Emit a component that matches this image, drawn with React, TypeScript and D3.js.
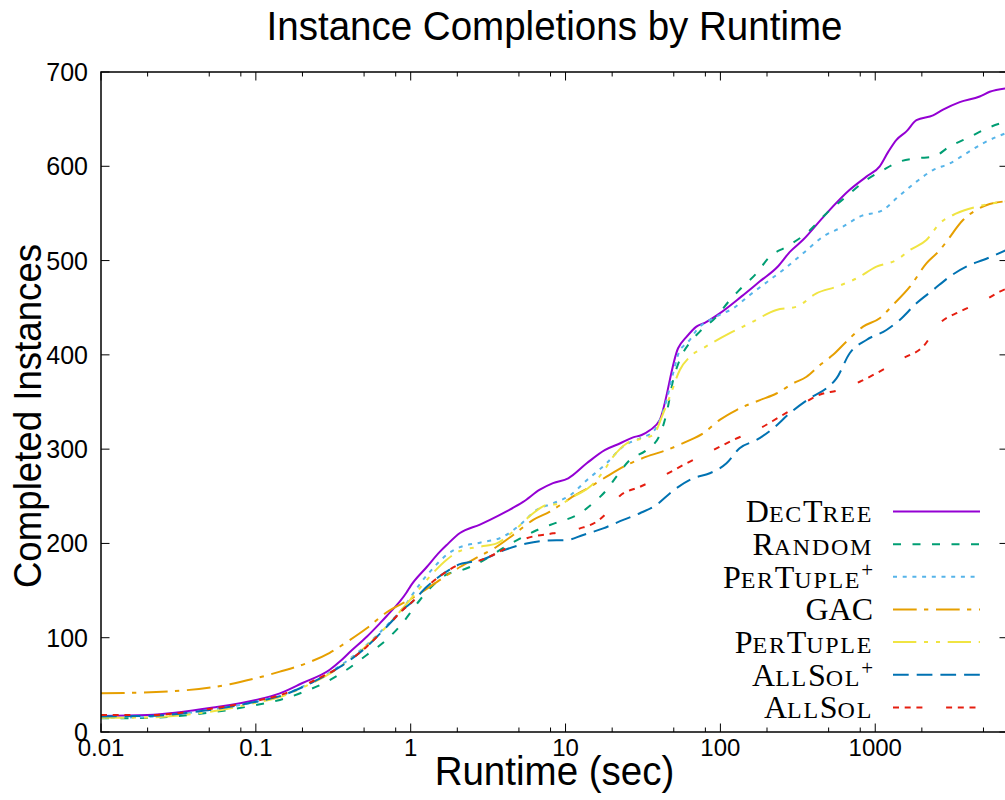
import React, { useEffect, useRef } from "react";
import * as d3 from "d3";

// runtime (sec), completed instances
const decTree = [
  [0.01, 17], [0.02, 18], [0.053, 26], [0.1, 34], [0.143, 41], [0.2, 52], [0.3, 66],
  [0.35, 75], [0.4, 84], [0.52, 101], [0.63, 115], [0.7, 123], [0.94, 148], [1.0, 155],
  [1.27, 175], [1.54, 191], [1.7, 198], [2.08, 211], [2.8, 220], [3.25, 225], [4.16, 234],
  [5.32, 244], [6.82, 257], [8.3, 264], [10.4, 269], [13.7, 285], [17.9, 299], [22.4, 306],
  [27.3, 312.5], [31, 315], [35, 320], [40.6, 331], [53.3, 407], [60.4, 419], [70, 430],
  [79.3, 434], [99, 444], [137, 462], [180, 478], [236, 494], [280, 509], [342, 522],
  [472, 548], [684, 575], [877, 589], [1069, 600], [1210, 615], [1371, 628], [1590, 637],
  [1845, 649], [2362, 654], [2741, 660], [3512, 668], [4727, 674], [5483, 679], [7200, 683],
];
const random = [
  [0.01, 14.5], [0.02, 15], [0.053, 21], [0.1, 28.6], [0.143, 34], [0.2, 42], [0.3, 55],
  [0.386, 66], [0.52, 81.7], [0.7, 98], [0.94, 121], [1.0, 127], [1.147, 140], [1.4, 156],
  [1.7, 167], [2.08, 171], [2.8, 180], [3.94, 195], [5.07, 205], [6.5, 214], [8.75, 222],
  [11.8, 230], [15, 242.5], [18.4, 256.7], [21.3, 270.8], [26, 288.5], [33.3, 299],
  [40.6, 315], [44.9, 338], [49.5, 373], [54.7, 395], [63.5, 413], [73.6, 424.6],
  [94.4, 440.5], [115, 458], [133, 469], [171, 486.5], [208, 504], [267, 514.7], [360, 529],
  [484, 550], [651, 568], [877, 585.5], [1123, 596], [1439, 605], [1845, 608.5],
  [2362, 610], [3027, 621], [4074, 631], [5224, 640], [7200, 648],
];
const perTuplePlus = [
  [0.01, 15], [0.02, 16], [0.053, 24], [0.1, 32], [0.143, 38], [0.2, 48], [0.3, 63],
  [0.5, 90], [0.7, 113], [0.94, 136.5], [1.0, 143], [1.147, 157], [1.4, 174], [1.7, 187.7],
  [2.08, 196], [2.8, 200.8], [3.94, 207], [5.07, 219.6], [6.5, 235.5], [8.3, 242.5],
  [10.7, 251], [13.7, 267], [18.4, 285], [23.4, 302.6], [30.2, 311.5], [36.8, 318.5],
  [44.9, 352], [49.5, 380.5], [54.7, 405], [57.4, 409], [63.5, 416], [70, 426], [94, 440.5],
  [121, 449.4], [155, 463.5], [208, 479.4], [254, 490], [342, 507.7], [460, 525.4],
  [619, 536], [794, 546.6], [1123, 553.7], [1371, 566], [1845, 583.7], [2362, 596],
  [3027, 603], [3879, 613.8], [4966, 624.4], [7200, 636],
];
const gac = [
  [0.01, 41], [0.032, 43.8], [0.068, 50.6], [0.1, 57], [0.143, 64], [0.213, 73], [0.3, 84],
  [0.4, 97], [0.52, 110], [0.7, 127], [1.0, 141], [1.6, 163], [2.08, 175], [2.8, 186.7],
  [3.59, 196.5], [4.59, 209], [6.18, 225], [7.92, 233.7], [10.7, 247.8], [14.35, 260],
  [18.4, 270.8], [24.8, 283], [33.3, 292], [44.9, 299], [60.4, 308], [77.3, 316.8],
  [99, 331], [127, 341.5], [180, 352], [230, 359], [295, 369.8], [360, 376.8], [438, 389],
  [534, 400], [651, 414], [834, 430], [1069, 438.8], [1303, 453], [1670, 472], [2140, 497],
  [2610, 511], [2882, 520], [3688, 543], [4501, 553.7], [5483, 560], [7200, 563],
];
const perTuple = [
  [0.01, 15], [0.02, 15.5], [0.053, 22], [0.1, 31], [0.143, 37], [0.2, 47], [0.3, 62],
  [0.5, 89], [0.7, 112], [1.0, 141], [1.33, 165], [1.7, 182.4], [2.08, 192], [2.8, 196.5],
  [3.59, 200], [4.59, 212.5], [6.18, 232], [7.54, 240.8], [9.19, 241.8], [11.2, 249.6],
  [14.35, 260], [17.5, 276], [20.3, 292], [24.8, 306], [31.7, 311.5], [36.8, 315],
  [42.7, 338], [47.1, 355.6], [54.7, 384], [63.5, 398], [77.3, 407], [115, 423],
  [155, 433.5], [230, 447.6], [310, 451], [417, 465.3], [562, 472.3], [756, 481],
  [1018, 493.5], [1371, 500.6], [1670, 511], [2140, 521.8], [2610, 539.5], [3343, 550],
  [4501, 557], [7200, 563],
];
const allSolPlus = [
  [0.01, 16.5], [0.02, 17], [0.053, 24], [0.1, 32], [0.143, 38], [0.247, 55], [0.349, 69],
  [0.52, 90.5], [0.7, 111.7], [0.94, 133], [1.0, 136.5], [1.27, 154], [1.7, 170],
  [2.08, 178], [2.8, 182], [4.16, 193.8], [5.6, 200], [7.54, 203], [10.15, 203.6],
  [13, 209], [17.5, 216], [23.6, 225], [30.2, 232], [38.7, 241], [47.1, 253], [52, 258.5],
  [66.6, 269], [85.4, 274.4], [109.5, 285], [133, 301], [171, 309.7], [219, 322],
  [280, 338], [378, 354], [484, 364.5], [562, 375], [684, 401.7], [877, 415.8],
  [1181, 426.4], [1439, 437], [1845, 454.7], [2362, 468.8], [3027, 483], [4074, 495.3],
  [4966, 500.6], [7200, 512],
];
const allSol = [
  [0.01, 18], [0.02, 18], [0.053, 25], [0.1, 33], [0.143, 39], [0.247, 56], [0.349, 69],
  [0.52, 90.5], [0.7, 111.7], [0.94, 133], [1.0, 136.5], [1.27, 154], [1.7, 170],
  [2.08, 178], [2.8, 182], [4.16, 195], [5.6, 205.4], [8.3, 210.7], [12.4, 216],
  [15.85, 223], [18.4, 232], [22.4, 250.3], [30.2, 260], [44.9, 273.5], [60.4, 285],
  [89.7, 299], [121, 309.7], [180, 322], [242, 334.4], [342, 348.6], [460, 359],
  [562, 362], [794, 371.5], [1018, 380.5], [1512, 396.3], [2035, 408.7], [2610, 433.5],
  [3512, 445.8], [5093, 458], [6365, 467], [7200, 471],
];

const seriesNames = ["DecTree", "Random", "PerTuple+", "GAC", "PerTuple", "AllSol+", "AllSol"];
const seriesData = [decTree, random, perTuplePlus, gac, perTuple, allSolPlus, allSol];

const xTicks = [0.01, 0.1, 1, 10, 100, 1000];
const xTickLabels = ["0.01", "0.1", "1", "10", "100", "1000"];
const xMinorSteps = [2, 5, 8];
const yTicks = [0, 100, 200, 300, 400, 500, 600, 700];

const colors = ["#9400d3", "#009e73", "#56b4e9", "#e69f00", "#f0e442", "#0072b2", "#e51e10"];
const dashes = [
  null,
  "8,11.5",
  "4,5.7",
  "23.7,7.3,4.3,7.7",
  "23.3,7.7,4,8,4,7.7",
  "15.7,8",
  "6,5.7,6,5.7,6,23.7",
];

const sans = "'Liberation Sans', Arial, Helvetica, sans-serif";
const serif = "'Liberation Serif', 'Times New Roman', serif";

const App = () => {
  const svgRef = useRef(null);

  useEffect(() => {
    const width = 1005;
    const height = 800;
    const plot = { left: 101, right: 1008, top: 72, bottom: 732 };
    const cx = (plot.left + plot.right) / 2;

    const svg = d3.select(svgRef.current);
    svg.selectAll("*").remove();
    svg.attr("width", width).attr("height", height);

    svg.append("rect")
      .attr("width", width)
      .attr("height", height)
      .attr("fill", "white");

    const x = d3.scaleLog().domain([0.01, 7200]).range([plot.left, plot.right]);
    const y = d3.scaleLinear().domain([0, 700]).range([plot.bottom, plot.top]);

    svg.append("defs")
      .append("clipPath")
      .attr("id", "plotclip")
      .append("rect")
      .attr("x", plot.left)
      .attr("y", plot.top)
      .attr("width", plot.right - plot.left)
      .attr("height", plot.bottom - plot.top);

    // ticks point inward and are mirrored on top / right
    const tickG = svg.append("g").attr("stroke", "black").attr("stroke-width", 1);
    xTicks.forEach((t) => {
      const px = x(t);
      tickG.append("line").attr("x1", px).attr("x2", px).attr("y1", plot.bottom).attr("y2", plot.bottom - 8.5);
      tickG.append("line").attr("x1", px).attr("x2", px).attr("y1", plot.top).attr("y2", plot.top + 8.5);
      xMinorSteps.forEach((m) => {
        const v = t * m;
        if (v > 7200) return;
        const mx = x(v);
        tickG.append("line").attr("x1", mx).attr("x2", mx).attr("y1", plot.bottom).attr("y2", plot.bottom - 4.5);
        tickG.append("line").attr("x1", mx).attr("x2", mx).attr("y1", plot.top).attr("y2", plot.top + 4.5);
      });
    });
    yTicks.forEach((v) => {
      const py = y(v);
      tickG.append("line").attr("x1", plot.left).attr("x2", plot.left + 8.5).attr("y1", py).attr("y2", py);
      tickG.append("line").attr("x1", plot.right).attr("x2", plot.right - 8.5).attr("y1", py).attr("y2", py);
    });

    // tick labels
    svg.append("g")
      .selectAll("text")
      .data(yTicks)
      .join("text")
      .attr("x", plot.left - 13)
      .attr("y", (d) => y(d) + 9)
      .attr("text-anchor", "end")
      .attr("font-family", sans)
      .attr("font-size", 25)
      .text((d) => d);

    svg.append("g")
      .selectAll("text")
      .data(xTicks)
      .join("text")
      .attr("x", (d) => x(d))
      .attr("y", plot.bottom + 24)
      .attr("text-anchor", "middle")
      .attr("font-family", sans)
      .attr("font-size", 24)
      .text((d, i) => xTickLabels[i]);

    // curves
    const line = d3
      .line()
      .x((d) => x(d[0]))
      .y((d) => y(d[1]))
      .curve(d3.curveMonotoneX);

    const curves = svg.append("g").attr("clip-path", "url(#plotclip)");
    seriesData.forEach((data, i) => {
      curves.append("path")
        .datum(data)
        .attr("d", line)
        .attr("fill", "none")
        .attr("stroke", colors[i])
        .attr("stroke-width", 2)
        .attr("stroke-dasharray", dashes[i]);
    });

    // frame
    svg.append("rect")
      .attr("x", plot.left)
      .attr("y", plot.top)
      .attr("width", plot.right - plot.left)
      .attr("height", plot.bottom - plot.top)
      .attr("fill", "none")
      .attr("stroke", "black")
      .attr("stroke-width", 1.5);

    // legend
    const legend = svg.append("g");
    seriesNames.forEach((name, i) => {
      const base = 522.3 + i * 32.65;
      const txt = legend.append("text")
        .attr("x", 873)
        .attr("y", base)
        .attr("text-anchor", "end")
        .attr("font-family", serif)
        .attr("fill", "black");
      const plus = name.endsWith("+");
      const word = plus ? name.slice(0, -1) : name;
      // small caps: capitals full size, lower-case letters as smaller capitals
      const runs = word.match(/[A-Z]+[a-z]*/g) || [];
      runs.forEach((r) => {
        const m = r.match(/^([A-Z]+)([a-z]*)$/);
        if (!m) return;
        txt.append("tspan").attr("font-size", 32).text(m[1]);
        if (m[2]) {
          txt.append("tspan")
            .attr("font-size", 24)
            .attr("letter-spacing", 1.7)
            .text(m[2].toUpperCase());
        }
      });
      if (plus) {
        txt.append("tspan").attr("font-size", 21).attr("dy", -11).text("+");
      }
      legend.append("line")
        .attr("x1", 893)
        .attr("x2", 980)
        .attr("y1", base - 10.8)
        .attr("y2", base - 10.8)
        .attr("stroke", colors[i])
        .attr("stroke-width", 2)
        .attr("stroke-dasharray", dashes[i]);
    });

    // titles (slightly condensed, like the original renderer)
    svg.append("text")
      .attr("transform", `translate(${cx},40) scale(0.94,1)`)
      .attr("text-anchor", "middle")
      .attr("font-family", sans)
      .attr("font-size", 41)
      .text("Instance Completions by Runtime");

    svg.append("text")
      .attr("transform", `translate(${cx},785) scale(0.94,1)`)
      .attr("text-anchor", "middle")
      .attr("font-family", sans)
      .attr("font-size", 41)
      .text("Runtime (sec)");

    svg.append("text")
      .attr("transform", "translate(41,416) rotate(-90) scale(0.94,1)")
      .attr("text-anchor", "middle")
      .attr("font-family", sans)
      .attr("font-size", 39)
      .text("Completed Instances");
  }, []);

  return (
    <div style={{ position: "absolute", left: 0, top: 0, width: 1005, height: 800, overflow: "hidden" }}>
      <svg ref={svgRef} style={{ display: "block" }}></svg>
    </div>
  );
};

export default App;
